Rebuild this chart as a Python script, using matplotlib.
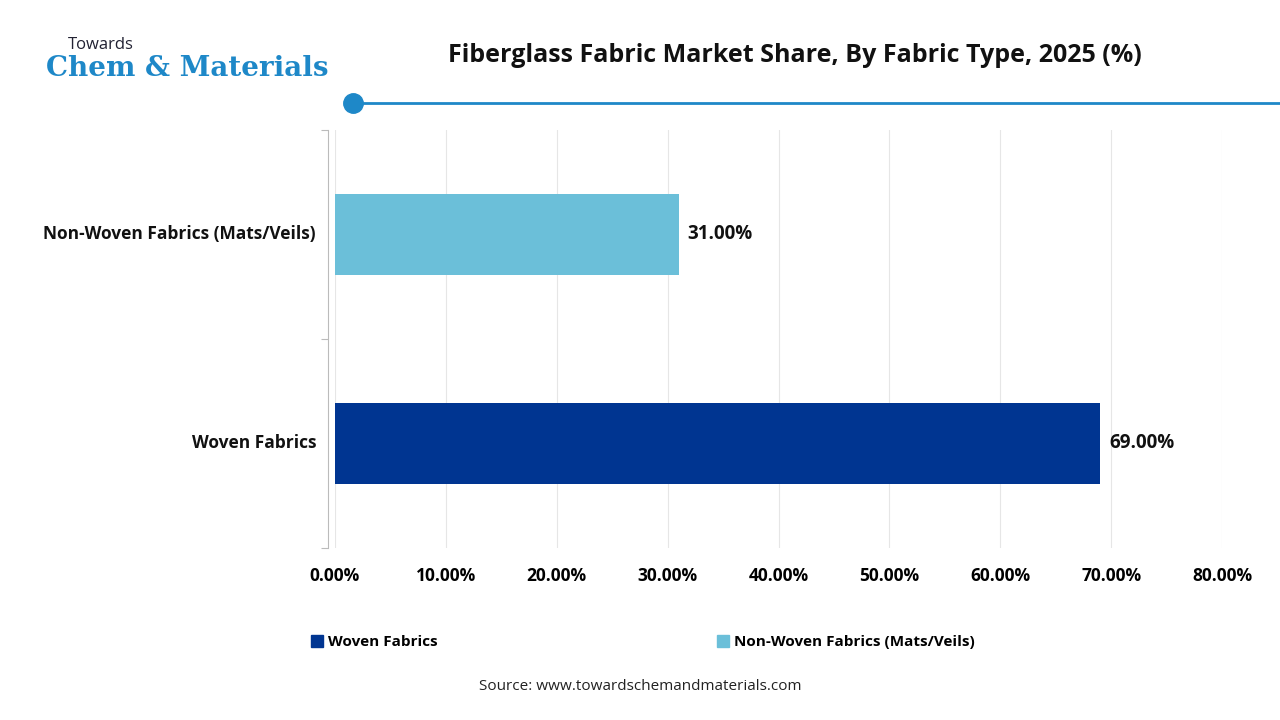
import matplotlib
matplotlib.use("Agg")
import matplotlib.pyplot as plt
import matplotlib.transforms as mtransforms
from matplotlib.lines import Line2D

plt.rcParams['font.family'] = ['Open Sans', 'DejaVu Sans']

categories = ["Woven Fabrics", "Non-Woven Fabrics (Mats/Veils)"]
values = [69.0, 31.0]
colors = ["#003591", "#6BBFD9"]
xticks = [0, 10, 20, 30, 40, 50, 60, 70, 80]

fig = plt.figure(figsize=(12.8, 7.2), dpi=100)
ax = fig.add_axes([335/1280, 1-548/720, (1222-335)/1280, (548-130)/720])
ax.barh([0, 1], values, height=0.39, color=colors, zorder=3)
ax.set_ylim(-0.5, 1.5)
ax.set_xlim(0, 80)
ax.set_yticks([-0.5, 0.5, 1.5])
ax.set_yticklabels([])
ax.tick_params(axis='y', length=5, color='#BBBBBB')
ax.tick_params(axis='x', length=0, pad=14)
ax.set_xticks(xticks)
ax.set_xticklabels([f"{t:.2f}%" for t in xticks], fontsize=12.5, fontweight='bold')
trans = mtransforms.blended_transform_factory(fig.transFigure, ax.transData)
for i, c in enumerate(categories):
    fig.text(316/1280, i, c, transform=trans, ha='right', va='center',
             fontsize=12.5, fontweight='bold', color='#111111')
ax.grid(axis='x', color='#E6E6E6', linewidth=0.8, zorder=0)
for s in ['top', 'right', 'bottom']:
    ax.spines[s].set_visible(False)
ax.spines['left'].set_color('#BBBBBB')
ax.spines['left'].set_position(('outward', 5))
for i, v in enumerate(values):
    ax.text(v + 0.8, i, f"{v:.2f}%", va='center', ha='left', fontsize=13.5, fontweight='bold', color='#111111')

# title and logo
fig.text(795/1280, 1-55/720, "Fiberglass Fabric Market Share, By Fabric Type, 2025 (%)",
         ha='center', va='center', fontsize=18, fontweight='bold', color='#111111')
fig.text(68/1280, 1-45/720, "Towards", fontsize=12, color='#222233', va='center')
fig.text(46/1280, 1-68/720, "Chem & Materials", fontsize=20, color='#1E88C8', va='center',
         fontweight='bold', family=['DejaVu Serif'])
fig.add_artist(Line2D([353/1280, 1.0], [1-103/720]*2, color='#1E88C8', lw=2))
fig.add_artist(Line2D([353/1280], [1-103/720], marker='o', markersize=14, color='#1E88C8',
                      transform=fig.transFigure))

# legend
handles = [Line2D([], [], marker='s', ls='', color=c, markersize=8) for c in colors]
fig.legend(handles, categories, loc='center left', bbox_to_anchor=(296/1280, 1-642/720), ncol=2,
           frameon=False, columnspacing=18.2, handletextpad=0.2, handlelength=1.0,
           prop={'weight': 'bold', 'size': 11})
fig.text(640/1280, 1-686/720, "Source: www.towardschemandmaterials.com", ha='center', va='center',
         fontsize=11, color='#222222')

fig.savefig("out.png", dpi=100, facecolor='white')
